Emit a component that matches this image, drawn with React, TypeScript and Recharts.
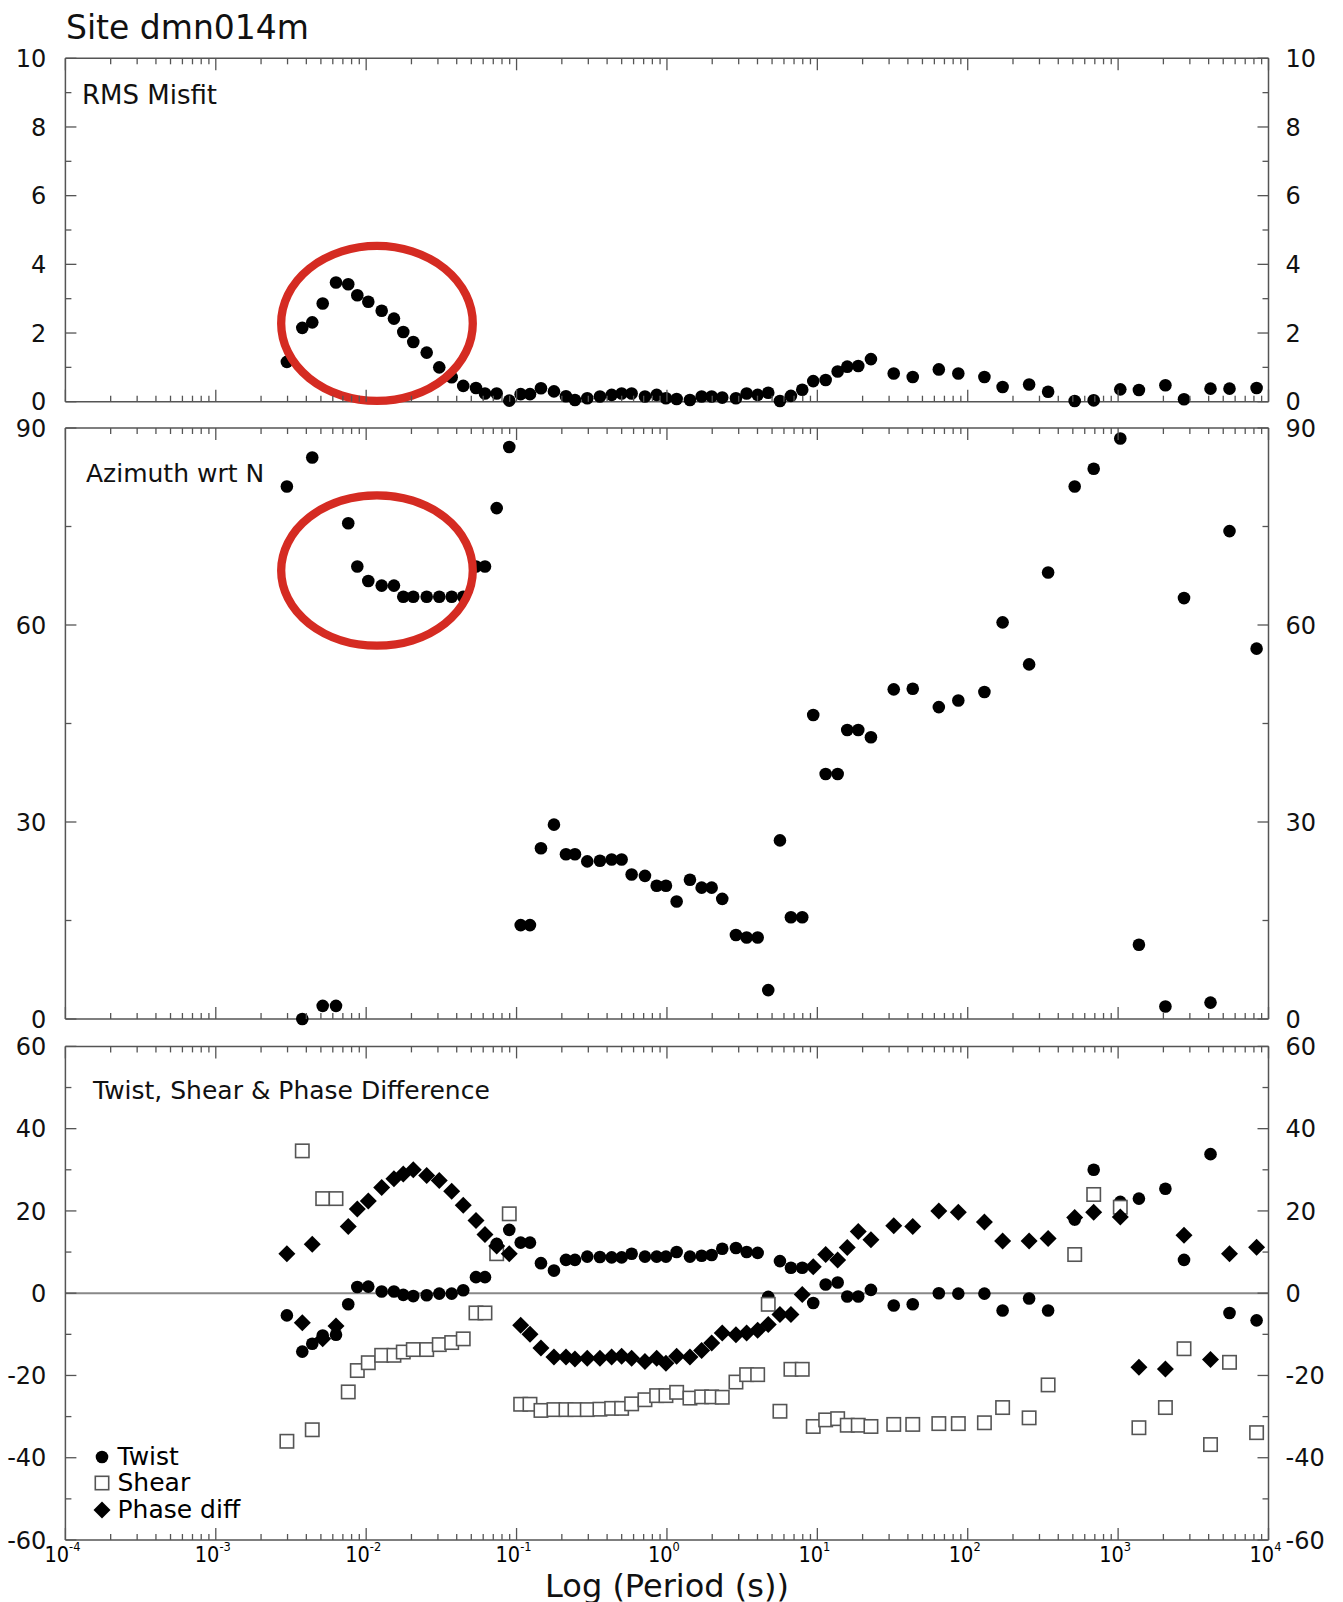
import React from "react";
import { ScatterChart, Scatter, XAxis, YAxis, ReferenceLine, ReferenceDot, Legend } from "recharts";

// period (s) of every estimate, shared by the three panels
const periods = [
  0.00297, 0.00376, 0.00438, 0.00514, 0.0063, 0.0076, 0.00873, 0.01033, 0.01268, 0.0153,
  0.01765, 0.02057, 0.02526, 0.03062, 0.03703, 0.0442, 0.05372, 0.06165, 0.07376, 0.08943,
  0.1065, 0.1228, 0.1453, 0.1773, 0.2131, 0.2445, 0.2952, 0.3584, 0.4288, 0.4996,
  0.5823, 0.7142, 0.8543, 0.9849, 1.16, 1.422, 1.701, 1.983, 2.332, 2.876,
  3.388, 4.01, 4.716, 5.641, 6.674, 7.936, 9.391, 11.36, 13.65, 15.81,
  18.71, 22.72, 32.21, 43.09, 64.24, 86.59, 129.1, 170.6, 256.0, 342.4,
  514.4, 688.2, 1034, 1375, 2063, 2743, 4116, 5505, 8334,
];

const rmsMisfit = [
  1.16, 2.15, 2.31, 2.86, 3.47, 3.42, 3.1, 2.91, 2.65, 2.42,
  2.03, 1.74, 1.43, 1.0, 0.71, 0.46, 0.4, 0.24, 0.24, 0.03,
  0.22, 0.22, 0.39, 0.3, 0.16, 0.05, 0.1, 0.15, 0.2, 0.24,
  0.24, 0.15, 0.2, 0.1, 0.08, 0.05, 0.15, 0.15, 0.12, 0.1,
  0.24, 0.2, 0.26, 0.02, 0.17, 0.35, 0.6, 0.63, 0.88, 1.02,
  1.04, 1.24, 0.82, 0.72, 0.94, 0.82, 0.72, 0.43, 0.5, 0.29,
  0.02, 0.04, 0.36, 0.34, 0.48, 0.07, 0.38, 0.38, 0.4,
];

const azimuth = [
  81.1, 0, 85.5, 2.0, 2.0, 75.5, 68.9, 66.7, 66.0, 66.0,
  64.3, 64.3, 64.3, 64.3, 64.3, 64.3, 68.9, 68.9, 77.8, 87.1,
  14.3, 14.3, 26.0, 29.6, 25.1, 25.1, 24.0, 24.1, 24.3, 24.3,
  22.0, 21.8, 20.3, 20.3, 17.9, 21.2, 20.0, 20.0, 18.3, 12.8,
  12.4, 12.4, 4.4, 27.2, 15.5, 15.5, 46.3, 37.3, 37.3, 44.0,
  44.0, 42.9, 50.2, 50.3, 47.5, 48.5, 49.8, 60.4, 54.0, 68.0,
  81.1, 83.8, 88.4, 11.3, 1.9, 64.1, 2.5, 74.3, 56.4,
];

const twist = [
  -5.4, -14.2, -12.3, -10.3, -10.1, -2.7, 1.5, 1.6, 0.4, 0.4,
  -0.4, -0.7, -0.5, -0.1, -0.1, 0.7, 3.9, 3.9, 12.0, 15.4,
  12.3, 12.3, 7.3, 5.5, 8.1, 8.1, 8.9, 8.8, 8.7, 8.7,
  9.6, 8.9, 8.9, 8.9, 10.0, 8.9, 9.1, 9.3, 10.8, 11.0,
  10.0, 9.8, -0.9, 7.8, 6.2, 6.2, -2.4, 2.1, 2.6, -0.8,
  -0.8, 0.8, -3.0, -2.7, 0.0, -0.1, -0.1, -4.2, -1.3, -4.2,
  17.9, 30.0, 22.2, 23.0, 25.4, 8.1, 33.8, -4.8, -6.6,
];

const shear = [
  -36.0, 34.6, -33.2, 23.0, 23.0, -24.0, -18.8, -16.9, -15.1, -15.1,
  -14.3, -13.7, -13.7, -12.5, -12.0, -11.1, -4.8, -4.8, 9.6, 19.3,
  -27.0, -27.0, -28.5, -28.3, -28.3, -28.3, -28.3, -28.2, -28.0, -28.0,
  -26.9, -25.9, -24.9, -24.9, -24.1, -25.5, -25.2, -25.2, -25.3, -21.6,
  -19.8, -19.8, -2.7, -28.7, -18.5, -18.5, -32.4, -30.8, -30.5, -32.1,
  -32.1, -32.4, -31.9, -31.9, -31.7, -31.7, -31.5, -27.8, -30.3, -22.3,
  9.4, 24.0, 20.9, -32.7, -27.8, -13.5, -36.8, -16.8, -33.9,
];

const phaseDiff = [
  9.6, -7.2, 11.9, -11.1, -8.0, 16.2, 20.5, 22.4, 25.7, 27.8,
  29.0, 30.0, 28.6, 27.4, 24.8, 21.4, 17.7, 14.3, 11.5, 9.6,
  -7.8, -10.0, -13.3, -15.5, -15.5, -16.0, -15.8, -15.8, -15.5, -15.3,
  -15.8, -16.6, -15.8, -17.0, -15.3, -15.5, -13.9, -12.1, -9.7, -10.1,
  -9.7, -9.0, -7.6, -5.2, -5.2, -0.3, 6.4, 9.4, 8.1, 11.1,
  15.0, 13.0, 16.4, 16.2, 20.0, 19.7, 17.3, 12.7, 12.7, 13.3,
  18.4, 19.7, 18.5, -18.0, -18.4, 14.1, -16.1, 9.6, 11.2,
];

// log axis ticks: decades plus the 2..9 minor ticks inside each decade
const decades = [1e-4, 1e-3, 1e-2, 1e-1, 1, 10, 100, 1000, 10000];
const minorSteps = [2, 3, 4, 5, 6, 7, 8, 9];
const xTicks = decades.flatMap((d, i) =>
  i < decades.length - 1 ? [d, ...minorSteps.map((m) => d * m)] : [d]
);

const rmsTicks = [0, 1, 2, 3, 4, 5, 6, 7, 8, 9, 10];
const rmsLabels = [0, 2, 4, 6, 8, 10];
const azTicks = [0, 15, 30, 45, 60, 75, 90];
const azLabels = [0, 30, 60, 90];
const tspTicks = [-60, -50, -40, -30, -20, -10, 0, 10, 20, 30, 40, 50, 60];
const tspLabels = [-60, -40, -20, 0, 20, 40, 60];

const legendOrder = ["Twist", "Shear", "Phase diff"];

// red annotation rings, centred in data units
const misfitRing = { period: 0.0118, value: 2.28 };
const azimuthRing = { period: 0.0118, value: 68.3 };

const W = 1343;
const LEFT_W = 65.4;
const RIGHT_W = 74.5;
const PLOT_W = W - LEFT_W - RIGHT_W;
const AXIS = "#555";
const RED = "#d52b22";
const FONT = "'DejaVu Sans', sans-serif";

const points = (vals: (number | null)[]) =>
  periods.map((p, i) => ({ period: p, value: vals[i] })).filter((d) => d.value !== null);

const isDecade = (v: number) => Math.abs(Math.log10(v) - Math.round(Math.log10(v))) < 1e-6;

// bottom axis tick, mirrored onto the top edge of the frame
const XTick = ({ x, y, payload, withLabel, plotH }: any) => {
  const major = isDecade(payload.value);
  const len = major ? 12 : 6;
  return (
    <g>
      <line x1={x} x2={x} y1={y} y2={y - len} stroke={AXIS} strokeWidth={1.3} />
      <line x1={x} x2={x} y1={y - plotH} y2={y - plotH + len} stroke={AXIS} strokeWidth={1.3} />
      {withLabel && major && (
        <text
          transform={`translate(${x - 3},${y + 22}) scale(0.88,1)`}
          textAnchor="middle"
          fontFamily={FONT}
          fontSize={22}
          fill="#000"
        >
          10
          <tspan fontSize={13} dy={-11}>
            {Math.round(Math.log10(payload.value))}
          </tspan>
        </text>
      )}
    </g>
  );
};

// left axis tick, mirrored onto the right edge of the frame
const YTick = ({ x, y, payload, labels }: any) => {
  const major = labels.includes(payload.value);
  const len = major ? 11 : 6;
  const xr = x + PLOT_W;
  return (
    <g>
      <line x1={x} x2={x + len} y1={y} y2={y} stroke={AXIS} strokeWidth={1.3} />
      <line x1={xr} x2={xr - len} y1={y} y2={y} stroke={AXIS} strokeWidth={1.3} />
      {major && (
        <>
          <text x={x - 19} y={y} dy="0.36em" textAnchor="end" fontFamily={FONT} fontSize={24} fill="#111">
            {payload.value}
          </text>
          <text x={xr + 17} y={y} dy="0.36em" textAnchor="start" fontFamily={FONT} fontSize={24} fill="#111">
            {payload.value}
          </text>
        </>
      )}
    </g>
  );
};

const Dot = ({ cx, cy }: any) => <circle cx={cx} cy={cy} r={6.3} fill="#000" />;
const Box = ({ cx, cy }: any) => (
  <rect x={cx - 6.7} y={cy - 6.7} width={13.4} height={13.4} fill="#fff" stroke={AXIS} strokeWidth={1.6} />
);
const Diamond = ({ cx, cy }: any) => (
  <polygon points={`${cx},${cy - 8.5} ${cx + 8.5},${cy} ${cx},${cy + 8.5} ${cx - 8.5},${cy}`} fill="#000" />
);

const Ring = (rx: number, ry: number) => ({ cx, cy }: any) => (
  <ellipse cx={cx} cy={cy} rx={rx} ry={ry} fill="none" stroke={RED} strokeWidth={8.3} />
);

const legendMarker = (name: string) => {
  if (name === "Twist") return <Dot cx={9} cy={9} />;
  if (name === "Shear") return <Box cx={9} cy={9} />;
  return <Diamond cx={9} cy={9} />;
};

const LegendBlock = ({ payload }: any) => {
  const rows = [...(payload || [])].sort(
    (a: any, b: any) => legendOrder.indexOf(a.value) - legendOrder.indexOf(b.value)
  );
  return (
    <div style={{ fontFamily: FONT, fontSize: 25, color: "#000" }}>
      {rows.map((e: any) => (
        <div key={e.value} style={{ display: "flex", alignItems: "center", height: 26.3, lineHeight: "26.3px" }}>
          <svg width={18} height={18} style={{ marginRight: 6.5 }}>
            {legendMarker(e.value)}
          </svg>
          <span>{e.value}</span>
        </div>
      ))}
    </div>
  );
};

const axisLine = { stroke: AXIS, strokeWidth: 1.5 };

interface PanelProps {
  top: number;
  height: number;
  plotTop: number;
  plotBottom: number;
  domain: [number, number];
  ticks: number[];
  labels: number[];
  xLabels?: boolean;
  children: React.ReactNode;
}

// plotTop / plotBottom are page y positions of the frame edges
const Panel = ({ top, height, plotTop, plotBottom, domain, ticks, labels, xLabels, children }: PanelProps) => {
  const plotH = plotBottom - plotTop;
  return (
    <div style={{ position: "absolute", left: 0, top, width: W, height }}>
      <ScatterChart
        width={W}
        height={height}
        margin={{ top: plotTop - top - 1, bottom: top + height - plotBottom - 1, left: 0, right: 0 }}
      >
        <XAxis
          xAxisId="b"
          dataKey="period"
          type="number"
          scale="log"
          domain={[1e-4, 1e4]}
          ticks={xTicks}
          interval={0}
          height={1}
          tickSize={0}
          tickMargin={0}
          tickLine={false}
          axisLine={axisLine}
          tick={(p: any) => <XTick {...p} withLabel={xLabels} plotH={plotH} />}
        />
        <XAxis
          xAxisId="t"
          orientation="top"
          dataKey="period"
          type="number"
          scale="log"
          domain={[1e-4, 1e4]}
          height={1}
          tick={false}
          tickLine={false}
          axisLine={axisLine}
        />
        <YAxis
          yAxisId="l"
          dataKey="value"
          type="number"
          domain={domain}
          ticks={ticks}
          interval={0}
          width={LEFT_W}
          tickSize={0}
          tickMargin={0}
          tickLine={false}
          axisLine={axisLine}
          tick={(p: any) => <YTick {...p} labels={labels} />}
        />
        <YAxis
          yAxisId="r"
          orientation="right"
          dataKey="value"
          type="number"
          domain={domain}
          width={RIGHT_W}
          tick={false}
          tickLine={false}
          axisLine={axisLine}
        />
        {children}
      </ScatterChart>
    </div>
  );
};

const textStyle = (left: number, top: number, size: number, lh = 1): React.CSSProperties => ({
  position: "absolute",
  left,
  top,
  fontFamily: FONT,
  fontSize: size,
  lineHeight: lh,
  color: "#111",
  whiteSpace: "nowrap",
});

export default function App() {
  return (
    <div style={{ position: "absolute", left: 0, top: 0, width: W, height: 1602, background: "#fff" }}>
      <Panel top={0} height={415} plotTop={58.3} plotBottom={401.7} domain={[0, 10]} ticks={rmsTicks} labels={rmsLabels}>
        <Scatter name="RMS Misfit" data={points(rmsMisfit)} xAxisId="b" yAxisId="l" shape={Dot} isAnimationActive={false} />
        <ReferenceDot xAxisId="b" yAxisId="l" x={misfitRing.period} y={misfitRing.value} shape={Ring(95.8, 77.5)} />
      </Panel>

      <Panel top={415} height={618} plotTop={428} plotBottom={1019} domain={[0, 90]} ticks={azTicks} labels={azLabels}>
        <Scatter name="Azimuth wrt N" data={points(azimuth)} xAxisId="b" yAxisId="l" shape={Dot} isAnimationActive={false} />
        <ReferenceDot xAxisId="b" yAxisId="l" x={azimuthRing.period} y={azimuthRing.value} shape={Ring(95.8, 75.2)} />
      </Panel>

      <Panel top={1033} height={569} plotTop={1046.4} plotBottom={1540} domain={[-60, 60]} ticks={tspTicks} labels={tspLabels} xLabels>
        <ReferenceLine xAxisId="b" yAxisId="l" y={0} stroke="#888" strokeWidth={2} />
        <Scatter name="Twist" data={points(twist)} xAxisId="b" yAxisId="l" shape={Dot} isAnimationActive={false} />
        <Scatter name="Shear" data={points(shear)} xAxisId="b" yAxisId="l" shape={Box} isAnimationActive={false} />
        <Scatter name="Phase diff" data={points(phaseDiff)} xAxisId="b" yAxisId="l" shape={Diamond} isAnimationActive={false} />
        <Legend
          layout="vertical"
          align="center"
          verticalAlign="middle"
          content={LegendBlock}
          wrapperStyle={{ position: "absolute", left: 93, top: 411, width: 220, height: 80 }}
        />
      </Panel>

      <div style={textStyle(66, 10.6, 33)}>Site dmn014m</div>
      <div style={textStyle(82, 81.5, 26)}>RMS Misfit</div>
      <div style={textStyle(86, 461.3, 25)}>Azimuth wrt N</div>
      <div style={textStyle(93, 1078.4, 25)}>Twist, Shear &amp; Phase Difference</div>
      <div style={{ ...textStyle(367, 1574.7, 32, 0.7), width: 600, textAlign: "center" }}>Log (Period (s))</div>
    </div>
  );
}
